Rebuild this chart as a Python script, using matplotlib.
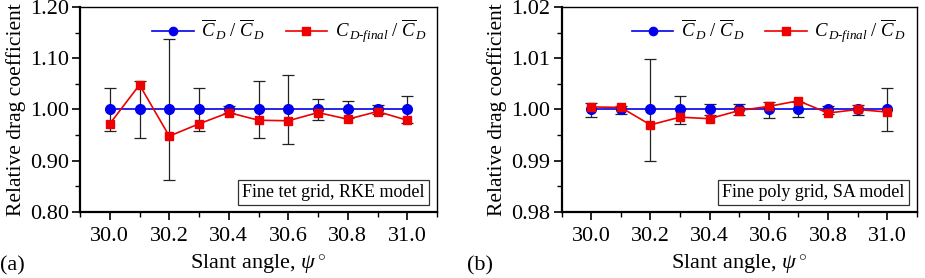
import numpy as np
import matplotlib.pyplot as plt
from matplotlib.ticker import MultipleLocator, FormatStrFormatter

plt.rcParams['font.family'] = 'Liberation Serif'
plt.rcParams['mathtext.fontset'] = 'custom'
plt.rcParams['mathtext.rm'] = 'Liberation Serif'
plt.rcParams['mathtext.it'] = 'Liberation Serif:italic'

angle = [30.0, 30.1, 30.2, 30.3, 30.4, 30.5, 30.6, 30.7, 30.8, 30.9, 31.0]

# panel (a) fine tet grid, RKE model
mean_a = [1.0] * 11
final_a = [0.972, 1.048, 0.948, 0.972, 0.994, 0.979, 0.978, 0.994, 0.981, 0.996, 0.979]
err_lo_a = [0.042, 0.056, 0.137, 0.042, 0.007, 0.055, 0.068, 0.020, 0.017, 0.009, 0.026]
err_hi_a = [0.041, 0.056, 0.137, 0.041, 0.006, 0.055, 0.067, 0.020, 0.017, 0.009, 0.026]

# panel (b) fine poly grid, SA model
mean_b = [1.0] * 11
final_b = [1.0005, 1.0004, 0.9970, 0.9985, 0.9982, 0.9998, 1.0006, 1.0017, 0.9993, 1.0000, 0.9995]
err_lo_b = [0.0014, 0.0009, 0.0101, 0.0028, 0.0011, 0.0011, 0.0016, 0.0015, 0.0008, 0.0010, 0.0042]
err_hi_b = [0.0013, 0.0007, 0.0099, 0.0026, 0.0011, 0.0011, 0.0015, 0.0015, 0.0006, 0.0008, 0.0041]

panels = [
    ('(a)', mean_a, final_a, err_lo_a, err_hi_a, (0.80, 1.20), 0.1, 'Fine tet grid, RKE model'),
    ('(b)', mean_b, final_b, err_lo_b, err_hi_b, (0.98, 1.02), 0.01, 'Fine poly grid, SA model'),
]

fig = plt.figure(figsize=(9.25, 2.78), dpi=100)
rects = [[0.0865, 0.2374, 0.386, 0.7376], [0.6072, 0.2374, 0.3838, 0.7376]]
tag_x = [0.0, 0.505]

lbl_mean = r'$\overline{C}_{\,D}\ /\ \overline{C}_{\,D}$'
lbl_final = r'$C_{\,D\text{-}final}\ /\ \overline{C}_{\,D}$'

for rect, tx, (tag, mean, final, elo, ehi, ylim, step, note) in zip(rects, tag_x, panels):
    ax = fig.add_axes(rect)
    ax.errorbar(angle, mean, yerr=[elo, ehi], fmt='none', ecolor='#222222',
                elinewidth=0.9, capsize=4.5, capthick=0.9, zorder=1)
    ax.plot(angle, mean, '-o', color='#0000ee', lw=1.2, ms=7, label=lbl_mean, zorder=3)
    ax.plot(angle, final, '-s', color='#ee0000', lw=1.2, ms=6, label=lbl_final, zorder=4)

    ax.set_xlim(29.9, 31.1)
    ax.set_ylim(*ylim)
    ax.xaxis.set_major_locator(MultipleLocator(0.2))
    ax.xaxis.set_minor_locator(MultipleLocator(0.1))
    ax.yaxis.set_major_locator(MultipleLocator(step))
    ax.yaxis.set_minor_locator(MultipleLocator(step / 2))
    ax.xaxis.set_major_formatter(FormatStrFormatter('%.1f'))
    ax.yaxis.set_major_formatter(FormatStrFormatter('%.2f'))
    ax.tick_params(which='major', direction='out', length=6, width=1.2, labelsize=16)
    ax.tick_params(which='minor', direction='out', length=3.5, width=1.0)
    ax.tick_params(axis='x', pad=5)
    ax.tick_params(axis='y', pad=2)
    for s in ['left', 'bottom']:
        ax.spines[s].set_linewidth(1.6)
    for s in ['top', 'right']:
        ax.spines[s].set_linewidth(1.0)

    ax.set_xlabel(r'Slant angle, $\psi\,^{\circ}$', fontsize=16, labelpad=4)
    ax.set_ylabel('Relative drag coefficient', fontsize=15.5, labelpad=3)

    ax.legend(loc='upper right', ncol=2, frameon=False, fontsize=13.5, handlelength=2.2,
              columnspacing=1.1, handletextpad=0.4, borderaxespad=0.15, markerscale=0.85)
    ax.text(0.966, 0.095, note, transform=ax.transAxes, ha='right', va='center', fontsize=13,
            bbox=dict(boxstyle='square,pad=0.22', fc='white', ec='#333333', lw=0.9))
    fig.text(tx, 0.045, tag, fontsize=16, ha='left', va='center')

fig.savefig('out.png', dpi=100)
